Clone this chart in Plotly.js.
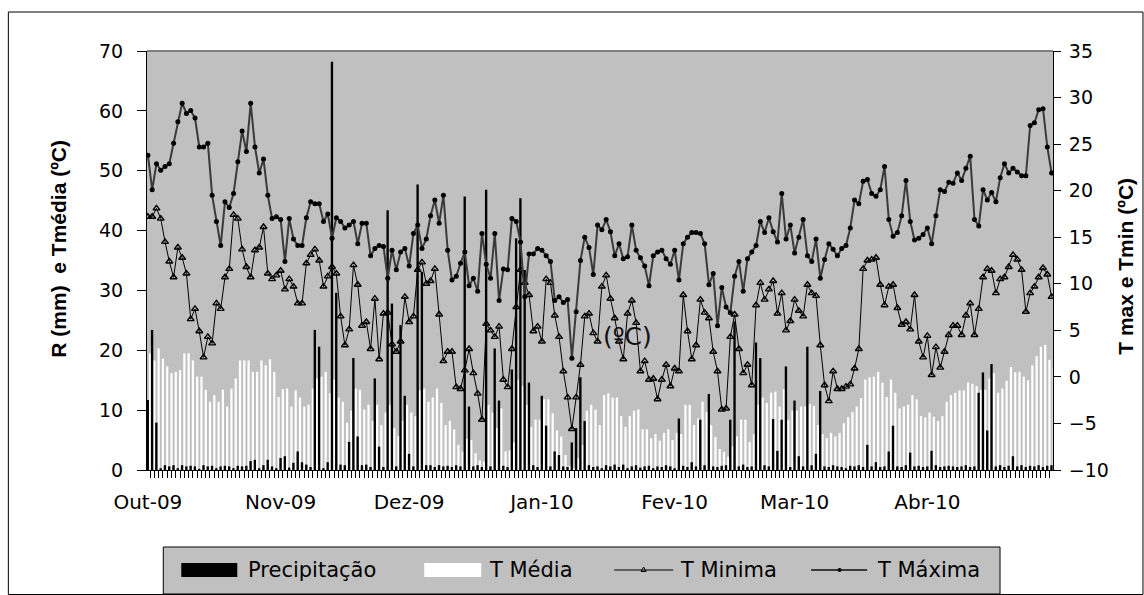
<!DOCTYPE html>
<html>
<head>
<meta charset="utf-8">
<script src="https://cdn.plot.ly/plotly-3.0.1.min.js"></script>
<style>
  html, body { margin: 0; padding: 0; background: #ffffff; }
  #chart { width: 1144px; height: 595px; }
</style>
</head>
<body>
<div id="chart"></div>
<script>
// ---------------- data (daily, 1 Oct 2009 .. 30 Apr 2010) ----------------
const startDate = [2009, 9, 1]; // 1 Oct 2009 (month index 9)

const precipitacao = [
  11.7, 23.4, 7.9, 0.3, 0.8, 0.6, 0.8, 0.3, 0.8, 0.6,
  0.7, 0.6, 0.2, 0.8, 0.6, 0.7, 0.3, 0.6, 0.7, 0.6,
  0.3, 0.7, 0.6, 0.7, 1.5, 1.7, 0.3, 0.8, 1.7, 0.6,
  0.3, 2.0, 2.3, 0.4, 1.2, 3.1, 1.3, 0.9, 0.5, 23.4,
  20.6, 0.3, 1.3, 68.2, 29.6, 0.9, 0.8, 4.7, 18.7, 5.6,
  0.8, 0.9, 0.5, 15.3, 3.9, 0.5, 43.4, 27.8, 0.6, 24.2,
  12.4, 2.7, 0.6, 47.7, 33.1, 0.8, 0.8, 0.5, 0.8, 0.6,
  0.7, 0.5, 0.8, 0.6, 45.7, 10.6, 0.6, 0.8, 0.5, 46.8,
  0.6, 20.3, 11.6, 0.7, 0.5, 16.8, 38.7, 45.4, 33.4, 14.6,
  0.8, 0.5, 12.4, 7.4, 0.6, 3.1, 2.5, 0.6, 0.5, 4.6,
  7.0, 15.5, 8.2, 0.8, 0.5, 0.6, 0.3, 0.8, 0.6, 0.9,
  0.5, 0.9, 0.3, 0.6, 0.8, 0.4, 0.6, 0.7, 0.3, 0.6,
  0.5, 0.8, 0.6, 0.3, 8.6, 0.7, 0.5, 1.3, 0.6, 8.4,
  0.8, 12.7, 0.6, 0.5, 0.7, 0.8, 8.4, 24.8, 0.6, 0.9,
  0.5, 0.6, 21.3, 18.7, 0.8, 0.6, 8.5, 3.2, 8.4, 17.3,
  0.5, 11.6, 2.3, 0.6, 20.6, 0.8, 2.7, 13.2, 0.6, 0.5,
  0.8, 0.6, 0.5, 0.3, 0.7, 0.6, 0.8, 0.5, 4.2, 0.6,
  1.3, 0.5, 0.6, 3.1, 7.4, 0.6, 0.5, 0.8, 2.9, 0.6,
  0.7, 0.5, 0.6, 3.2, 0.8, 0.5, 0.6, 0.7, 0.6, 0.5,
  0.6, 0.8, 0.5, 0.6, 12.9, 16.3, 6.6, 17.7, 0.6, 0.8,
  0.5, 0.7, 2.3, 0.6, 0.8, 0.5, 0.7, 0.6, 0.8, 0.5,
  0.7, 0.8
];

const tMedia = [
  19.5, 18.3, 20.3, 18.6, 17.3, 16.2, 16.4, 16.7, 19.5, 19.5,
  18.3, 15.6, 15.6, 13.4, 11.4, 12.5, 11.4, 13.4, 10.6, 13.6,
  15.3, 18.3, 18.3, 18.3, 16.4, 16.4, 18.3, 17.5, 18.5, 16.4,
  12.2, 13.5, 13.6, 10.6, 13.3, 12.1, 10.6, 10.9, 13.6, 15.3,
  15.6, 16.4, 12.8, 15.1, 12.1, 11.4, 7.9, 9.9, 13.6, 13.4,
  10.1, 10.9, 8.2, 10.9, 7.5, 9.6, 10.9, 7.0, 5.7, 8.2,
  10.9, 9.6, 9.0, 13.3, 13.6, 11.4, 12.1, 13.6, 11.2, 7.5,
  8.2, 6.8, 4.2, 3.1, 5.2, 5.0, 2.8, 1.6, 1.4, 10.9,
  9.6, 7.0, 10.3, 3.1, 3.3, 4.6, 15.1, 14.0, 10.9, 7.2,
  8.4, 8.4, 11.8, 11.8, 9.5, 6.6, 5.6, 2.5, 0.7, 0.3,
  2.0, 4.2, 9.9, 10.9, 10.1, 7.5, 12.5, 12.8, 12.1, 12.1,
  9.0, 7.2, 9.0, 9.9, 10.1, 6.8, 6.8, 5.3, 6.0, 4.9,
  6.2, 6.8, 5.0, 6.2, 6.0, 10.9, 10.9, 7.5, 8.6, 11.4,
  9.7, 7.5, 5.5, 3.5, 3.0, 2.2, 4.0, 5.6, 8.4, 8.4,
  4.7, 6.0, 10.9, 12.1, 11.2, 12.9, 13.1, 10.6, 13.5, 8.4,
  9.9, 9.9, 10.6, 10.6, 11.0, 10.7, 7.5, 6.0, 5.3, 6.2,
  5.6, 6.2, 7.8, 8.8, 9.7, 10.6, 12.0, 15.1, 15.5, 15.6,
  16.4, 14.6, 12.2, 15.1, 12.9, 10.3, 10.6, 10.9, 12.5, 11.8,
  9.0, 8.8, 9.6, 8.9, 8.2, 9.0, 11.4, 12.5, 12.9, 13.3,
  13.3, 14.6, 14.4, 14.0, 13.4, 13.4, 15.3, 16.2, 12.9, 13.6,
  14.9, 17.2, 16.3, 16.4, 15.6, 15.0, 17.5, 19.0, 20.6, 20.9,
  18.4, 17.0
];

const tMinima = [
  17.2, 17.2, 18.1, 17.0, 14.5, 12.4, 10.7, 13.9, 12.8, 11.1,
  6.2, 7.3, 4.9, 2.1, 4.3, 3.6, 7.9, 7.3, 10.7, 11.6,
  17.4, 17.0, 13.7, 11.8, 10.7, 13.6, 13.9, 16.1, 11.1, 10.5,
  10.9, 11.4, 9.4, 10.5, 9.7, 7.9, 7.9, 12.2, 13.1, 13.7,
  12.5, 9.7, 10.8, 11.8, 11.1, 6.5, 3.4, 5.1, 12.0, 9.9,
  5.5, 5.9, 3.0, 8.4, 1.9, 6.8, 6.9, 3.5, 2.7, 3.8,
  8.6, 5.9, 6.5, 11.5, 12.3, 10.0, 10.3, 11.6, 6.7, 1.7,
  2.7, 2.7, -1.1, -1.3, 0.7, 3.0, 0.4, -1.8, -4.6, 5.7,
  5.0, 4.3, 5.4, -0.3, -1.1, 3.0, 7.5, 11.5, 10.1, 8.8,
  4.9, 5.4, 3.8, 10.5, 10.1, 6.6, 4.3, 0.6, -2.2, -5.6,
  -2.2, 1.3, 6.5, 6.8, 4.7, 3.8, 9.7, 10.9, 8.4, 6.3,
  3.8, 1.9, 6.8, 8.2, 5.8, 0.6, 1.7, -0.3, -0.2, -2.4,
  -0.3, 1.3, -1.0, 0.9, 0.6, 8.8, 4.9, 1.9, 3.4, 8.3,
  6.9, 6.3, 2.7, 0.6, -3.5, -3.4, 4.3, 6.7, 3.0, 0.4,
  1.3, -0.9, 7.7, 10.1, 8.3, 9.4, 10.3, 6.8, 9.0, 5.0,
  6.0, 8.3, 7.1, 6.5, 9.9, 9.0, 8.7, 3.4, -0.9, -2.6,
  0.6, -1.3, -1.3, -1.05, -0.8, 0.9, 3.0, 11.6, 12.5, 12.6,
  12.8, 9.9, 7.7, 9.7, 9.9, 7.4, 5.6, 5.9, 5.1, 8.8,
  3.8, 2.1, 4.4, 0.2, 3.2, 1.0, 2.7, 4.5, 5.5, 5.5,
  4.5, 6.6, 7.9, 4.5, 7.3, 10.7, 11.6, 11.4, 9.0, 10.5,
  10.7, 11.8, 13.1, 12.6, 11.5, 7.0, 9.0, 9.7, 10.7, 11.7,
  11.0, 8.6
];

const tMaxima = [
  23.8, 20.1, 22.9, 22.2, 22.6, 22.9, 25.1, 27.4, 29.4, 28.3,
  28.6, 27.8, 24.7, 24.7, 25.1, 19.5, 16.7, 14.1, 18.8, 18.2,
  19.7, 23.1, 26.4, 24.2, 29.4, 24.7, 21.9, 23.4, 19.5, 17.0,
  17.2, 16.9, 12.4, 17.0, 14.8, 14.1, 14.1, 17.1, 18.8, 18.6,
  18.6, 16.7, 17.5, 14.9, 17.1, 16.7, 16.0, 16.3, 16.7, 14.3,
  16.5, 16.5, 13.0, 13.8, 14.1, 14.0, 10.6, 13.6, 11.5, 13.4,
  13.8, 11.9, 15.4, 16.3, 13.8, 14.8, 17.3, 19.0, 16.5, 19.5,
  13.6, 10.4, 10.8, 12.2, 13.4, 9.8, 10.6, 9.2, 15.4, 12.1,
  10.6, 15.4, 8.2, 11.6, 11.5, 17.0, 16.7, 14.5, 8.6, 13.2,
  13.2, 13.8, 13.6, 13.0, 12.4, 8.2, 8.6, 8.0, 8.3, 2.0,
  7.0, 12.5, 15.0, 13.9, 11.0, 16.3, 15.8, 16.9, 15.6, 13.0,
  14.3, 12.7, 12.9, 16.3, 13.6, 12.8, 11.9, 9.8, 13.0, 13.4,
  13.6, 12.7, 12.1, 13.6, 10.4, 14.3, 15.0, 15.5, 15.5, 15.4,
  14.3, 9.9, 11.1, 5.5, 9.6, 7.5, 6.9, 10.8, 12.4, 9.2,
  12.7, 13.4, 14.1, 16.7, 15.5, 17.1, 15.6, 14.5, 19.7, 14.8,
  16.3, 13.3, 15.0, 16.9, 13.0, 12.4, 14.8, 10.6, 12.6, 14.3,
  13.7, 13.0, 13.8, 14.1, 16.0, 19.0, 18.6, 21.0, 21.2, 19.7,
  19.4, 20.1, 22.6, 16.9, 15.1, 15.5, 17.3, 21.1, 16.7, 14.7,
  14.9, 15.3, 16.0, 14.3, 17.3, 20.1, 19.9, 20.9, 20.8, 21.9,
  21.1, 22.4, 23.7, 16.9, 16.2, 20.1, 19.0, 19.8, 18.8, 21.4,
  22.9, 21.9, 22.4, 22.0, 21.6, 21.6, 27.0, 27.3, 28.7, 28.8,
  24.7, 21.9
];

const monthTickDates = ['2009-10-01', '2009-11-01', '2009-12-01', '2010-01-01',
                        '2010-02-01', '2010-03-01', '2010-04-01'];
const monthTickLabels = ['Out-09', 'Nov-09', 'Dez-09', 'Jan-10', 'Fev-10', 'Mar-10', 'Abr-10'];

// daily category dates
const dias = tMaxima.map((_, i) =>
  new Date(Date.UTC(startDate[0], startDate[1], startDate[2] + i)).toISOString().slice(0, 10));

// ---------------- geometry helpers (pixel -> paper) ----------------
const W = 1144, H = 595;
const PL = 146.7, PR = 1053, PT = 51, PB = 470;
const px = X => (X - PL) / (PR - PL);
const py = Y => (PB - Y) / (PB - PT);
const DAY = 86400000;

const FONT = 'DejaVu Sans, Liberation Sans, Arial, sans-serif';
const TITLE_FONT = 'Liberation Sans, Arial, sans-serif';

const traces = [
  { type: 'bar', name: 'T Média', x: dias, y: tMedia, yaxis: 'y',
    width: 0.52 * DAY, offset: 0.25 * DAY,
    marker: { color: '#ffffff', line: { width: 0 } }, showlegend: false },
  { type: 'bar', name: 'Precipitação', x: dias, y: precipitacao, yaxis: 'y',
    width: 0.55 * DAY, offset: -0.3 * DAY,
    marker: { color: '#000000', line: { width: 0 } }, showlegend: false },
  { type: 'scatter', mode: 'lines+markers', name: 'T Minima', x: dias, y: tMinima, yaxis: 'y2',
    line: { color: '#000000', width: 1 },
    marker: { symbol: 'triangle-up-open', size: 6, color: '#000000', line: { width: 1.4, color: '#000000' } },
    showlegend: false },
  { type: 'scatter', mode: 'lines+markers', name: 'T Máxima', x: dias, y: tMaxima, yaxis: 'y2',
    line: { color: '#3a3a3a', width: 2 },
    marker: { symbol: 'circle', size: 5, color: '#000000' },
    showlegend: false }
];

const legY = 570;
const shapes = [
  // outer chart frame
  { type: 'rect', xref: 'paper', yref: 'paper', x0: px(8), x1: px(1143), y0: py(12), y1: py(594.5),
    line: { color: '#000000', width: 1 }, fillcolor: 'rgba(0,0,0,0)', layer: 'below' },
  // plot-area top border (grey)
  { type: 'line', xref: 'paper', yref: 'paper', x0: 0, x1: 1, y0: 1, y1: 1,
    line: { color: '#808080', width: 2 } },
  // legend box
  { type: 'rect', xref: 'paper', yref: 'paper', x0: px(163), x1: px(1000), y0: py(547), y1: py(594),
    line: { color: '#000000', width: 1 }, fillcolor: '#C0C0C0' },
  // legend swatches
  { type: 'rect', xref: 'paper', yref: 'paper', x0: px(181), x1: px(237), y0: py(563), y1: py(577),
    line: { width: 0 }, fillcolor: '#000000' },
  { type: 'rect', xref: 'paper', yref: 'paper', x0: px(424), x1: px(481), y0: py(563), y1: py(577),
    line: { width: 0 }, fillcolor: '#ffffff' },
  { type: 'line', xref: 'paper', yref: 'paper', x0: px(614), x1: px(673), y0: py(legY), y1: py(legY),
    line: { color: '#000000', width: 1 } },
  { type: 'path', xref: 'paper', yref: 'paper',
    path: `M ${px(641)} ${py(legY + 1.5)} L ${px(646)} ${py(legY + 1.5)} L ${px(643.5)} ${py(legY - 3)} Z`,
    line: { color: '#000000', width: 1 }, fillcolor: 'rgba(0,0,0,0)' },
  { type: 'line', xref: 'paper', yref: 'paper', x0: px(811), x1: px(867), y0: py(legY), y1: py(legY),
    line: { color: '#3a3a3a', width: 2 } },
  { type: 'circle', xref: 'paper', yref: 'paper', x0: px(837.5), x1: px(841.5), y0: py(legY + 2), y1: py(legY - 2),
    line: { color: '#000000', width: 0 }, fillcolor: '#000000' }
];

const legFont = { family: FONT, size: 21, color: '#000000' };
const annotations = [
  { xref: 'paper', yref: 'paper', x: px(246), y: py(legY), xanchor: 'left', yanchor: 'middle',
    text: 'Precipitação', showarrow: false, font: legFont },
  { xref: 'paper', yref: 'paper', x: px(487), y: py(legY), xanchor: 'left', yanchor: 'middle',
    text: 'T Média', showarrow: false, font: legFont },
  { xref: 'paper', yref: 'paper', x: px(678), y: py(legY), xanchor: 'left', yanchor: 'middle',
    text: 'T Minima', showarrow: false, font: legFont },
  { xref: 'paper', yref: 'paper', x: px(875), y: py(legY), xanchor: 'left', yanchor: 'middle',
    text: 'T Máxima', showarrow: false, font: legFont },
  // stray label inside the plot
  { xref: 'paper', yref: 'paper', x: px(627), y: py(336), xanchor: 'center', yanchor: 'middle',
    text: '(ºC)', showarrow: false, font: { family: FONT, size: 25, color: '#111111' } }
];

const tickFont = { family: FONT, size: 19, color: '#000000' };
const NB = '\u00A0';

const layout = {
  width: W, height: H,
  margin: { l: PL, r: W - PR, t: PT, b: H - PB, pad: 0 },
  paper_bgcolor: '#ffffff',
  plot_bgcolor: '#C0C0C0',
  barmode: 'overlay',
  showlegend: false,
  xaxis: {
    type: 'date',
    range: ['2009-09-30 19:00', '2010-04-30 08:00'],
    tickmode: 'array', tickvals: monthTickDates, ticktext: monthTickLabels,
    ticks: '', ticklabelstandoff: 14,
    tickfont: { family: FONT, size: 20, color: '#000000' },
    minor: { ticks: 'outside', ticklen: 7, tickwidth: 1, tickcolor: '#000000',
             dtick: DAY, tick0: '2009-09-30 12:00', showgrid: false },
    showline: true, linecolor: '#000000', linewidth: 1,
    showgrid: false, zeroline: false, fixedrange: true
  },
  yaxis: {
    range: [0, 70], dtick: 10, tick0: 0,
    ticks: 'outside', ticklen: 9, tickwidth: 1, tickcolor: '#000000',
    ticklabelstandoff: 10,
    tickfont: tickFont,
    showline: true, linecolor: '#000000', linewidth: 1,
    showgrid: false, zeroline: false,
    title: { text: '<b>' + NB + NB + NB + NB + 'R (mm)' + NB + ' e Tmédia (ºC)</b>', standoff: 26,
             font: { family: TITLE_FONT, size: 21, color: '#000000' } }
  },
  yaxis2: {
    overlaying: 'y', side: 'right', anchor: 'x',
    range: [-10, 35], dtick: 5, tick0: -10,
    ticks: 'outside', ticklen: 7, tickwidth: 1, tickcolor: '#000000',
    ticklabelstandoff: 4,
    tickfont: tickFont,
    showline: true, linecolor: '#000000', linewidth: 1,
    showgrid: false, zeroline: false,
    title: { text: '<b>T max e Tmin (ºC)' + NB + NB + '</b>', standoff: 10,
             font: { family: TITLE_FONT, size: 21, color: '#000000' } }
  },
  yaxis3: {
    overlaying: 'y', side: 'left', anchor: 'x',
    range: [0, 70], dtick: 10, tick0: 0,
    ticks: 'inside', ticklen: 6, tickwidth: 1, tickcolor: '#000000',
    showticklabels: false, showline: false, showgrid: false, zeroline: false
  },
  yaxis4: {
    overlaying: 'y', side: 'right', anchor: 'x',
    range: [-10, 35], dtick: 5, tick0: -10,
    ticks: 'inside', ticklen: 7, tickwidth: 1, tickcolor: '#000000',
    showticklabels: false, showline: false, showgrid: false, zeroline: false
  },
  shapes: shapes,
  annotations: annotations,
  font: { family: FONT, color: '#000000' }
};

Plotly.newPlot('chart', traces, layout, { staticPlot: true, displayModeBar: false });
</script>
</body>
</html>
